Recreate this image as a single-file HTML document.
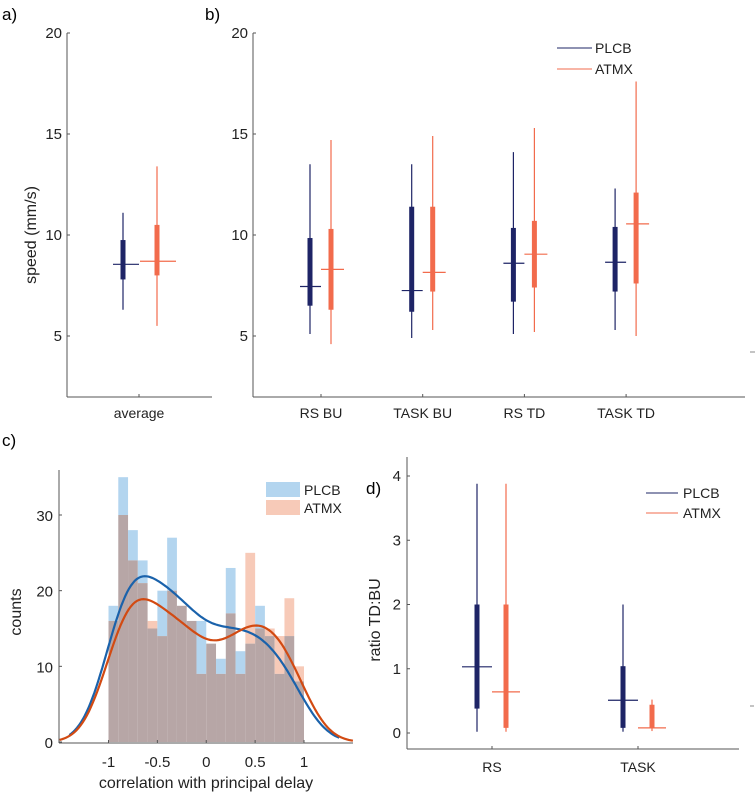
<!DOCTYPE html>
<html><head><meta charset="utf-8">
<style>
body{margin:0;background:#fff;}
svg{display:block;font-family:"Liberation Sans",Arial,sans-serif;}
</style></head>
<body>
<svg id="fig" width="755" height="795" viewBox="0 0 755 795" xmlns="http://www.w3.org/2000/svg">
<text x="2" y="20" font-size="17">a)</text>
<text x="205" y="20" font-size="17">b)</text>
<text x="2" y="446" font-size="17">c)</text>
<text x="366" y="494" font-size="17">d)</text>
<g id="gA"></g>
<g id="gB"></g>
<g id="gC"></g>
<g id="gD"></g>
</svg>
<script>
// ---- Panel a/b data (speed mm/s) ----
const aCats = ["average"];
const aPlcb = [[6.3, 7.8, 8.55, 9.75, 11.1]];   // [whiskLo, q1, median, q3, whiskHi]
const aAtmx = [[5.5, 8.0, 8.7, 10.5, 13.4]];
const bCats = ["RS BU", "TASK BU", "RS TD", "TASK TD"];
const bPlcb = [[5.1,6.5,7.45,9.85,13.5],[4.9,6.2,7.25,11.4,13.5],[5.1,6.7,8.6,10.35,14.1],[5.3,7.2,8.65,10.4,12.3]];
const bAtmx = [[4.6,6.3,8.3,10.3,14.7],[5.3,7.2,8.15,11.4,14.9],[5.2,7.4,9.05,10.7,15.3],[5.0,7.6,10.55,12.1,17.6]];
const speedTicks = [5, 10, 15, 20];
// ---- Panel c data (histogram counts, bins of 0.1 from -1 to 1) ----
const cPlcb = [18,35,28,24,15,20,27,18,16,16,13,11,23,12,13,18,14,9,14,8];
const cAtmx = [16,30,24,21,16,14,20,18,16,9,13,9,17,9,25,15,15,14,19,10];
const cXTicks = [-1, -0.5, 0, 0.5, 1];
const cXTickLabels = ["-1", "-0.5", "0", "0.5", "1"];
const cYTicks = [0, 10, 20, 30];
// ---- Panel d data (ratio TD:BU) ----
const dCats = ["RS", "TASK"];
const dPlcb = [[0.02,0.38,1.03,2.0,3.88],[0.02,0.08,0.51,1.04,2.0]];
const dAtmx = [[0.02,0.08,0.64,2.0,3.88],[0.03,0.08,0.08,0.44,0.52]];
const dYTicks = [0, 1, 2, 3, 4];

const NS = "http://www.w3.org/2000/svg";
const DARK = "#1e2466", ORG = "#f26b4c", AX = "#555";
function mk(parent, tag, attrs, name) {
  const el = document.createElementNS(NS, tag);
  for (const k in attrs) el.setAttribute(k, attrs[k]);
  
  
  parent.appendChild(el);
  return el;
}
function txt(parent, x, y, s, size, anchor, name, extra) {
  const t = mk(parent, "text", Object.assign({x: x, y: y, "font-size": size, "text-anchor": anchor, fill: "#222"}, extra || {}), name);
  t.textContent = s;
  return t;
}
function linScale(d0, d1, r0, r1) { return v => r0 + (v - d0) * (r1 - r0) / (d1 - d0); }

function boxPlot(g, x, s, y, color, medL, medR, name) {
  mk(g, "line", {x1: x, x2: x, y1: y(s[0]), y2: y(s[4]), stroke: color, "stroke-width": 1.2}, name + "-whisker");
  mk(g, "rect", {x: x - 2.5, y: y(s[3]), width: 5, height: y(s[1]) - y(s[3]), fill: color}, name + "-box");
  mk(g, "line", {x1: x + medL, x2: x + medR, y1: y(s[2]), y2: y(s[2]), stroke: color, "stroke-width": 1.2}, name + "-median");
}

// ---- Panel A ----
(function(){
  const g = document.getElementById("gA");
  const y = linScale(20, 5, 33, 336);
  mk(g, "line", {x1: 67, x2: 67, y1: 33, y2: 397, stroke: AX}, "y-axis");
  mk(g, "line", {x1: 67, x2: 212, y1: 397, y2: 397, stroke: AX}, "x-axis");
  speedTicks.forEach(v => {
    mk(g, "line", {x1: 67, x2: 70, y1: y(v), y2: y(v), stroke: AX}, "y-tick");
    txt(g, 62, y(v) + 5, String(v), 15, "end", "y-tick-label");
  });
  txt(g, 36, 235, "speed (mm/s)", 16, "middle", "y-axis-title", {transform: "rotate(-90 36 235)"});
  aCats.forEach((c, i) => {
    const cx = 139;
    mk(g, "line", {x1: cx, x2: cx, y1: 397, y2: 394, stroke: AX}, "x-tick");
    txt(g, cx, 418, c, 14, "middle", "x-tick-label");
    boxPlot(g, cx - 16, aPlcb[i], y, DARK, -10, 16, "plcb-box-" + c);
    boxPlot(g, cx + 18, aAtmx[i], y, ORG, -17, 19, "atmx-box-" + c);
  });
})();

// ---- Panel B ----
(function(){
  const g = document.getElementById("gB");
  const y = linScale(20, 5, 33, 336);
  mk(g, "line", {x1: 253, x2: 253, y1: 33, y2: 397, stroke: AX}, "y-axis");
  mk(g, "line", {x1: 253, x2: 745, y1: 397, y2: 397, stroke: AX}, "x-axis");
  mk(g, "line", {x1: 750, x2: 755, y1: 352, y2: 352, stroke: "#888"}, "axis-stub");
  speedTicks.forEach(v => {
    mk(g, "line", {x1: 253, x2: 256, y1: y(v), y2: y(v), stroke: AX}, "y-tick");
    txt(g, 248, y(v) + 5, String(v), 15, "end", "y-tick-label");
  });
  const x = i => 321 + i * 101.7;
  bCats.forEach((c, i) => {
    const cx = x(i);
    mk(g, "line", {x1: cx, x2: cx, y1: 397, y2: 394, stroke: AX}, "x-tick");
    txt(g, cx, 418, c, 14, "middle", "x-tick-label");
    boxPlot(g, cx - 11, bPlcb[i], y, DARK, -10, 11, "plcb-box");
    boxPlot(g, cx + 10, bAtmx[i], y, ORG, -10, 13, "atmx-box");
  });
  mk(g, "line", {x1: 557, x2: 592, y1: 48, y2: 48, stroke: DARK}, "legend-plcb-line");
  txt(g, 595, 53, "PLCB", 14, "start", "legend-plcb-label");
  mk(g, "line", {x1: 557, x2: 592, y1: 69, y2: 69, stroke: ORG}, "legend-atmx-line");
  txt(g, 595, 74, "ATMX", 14, "start", "legend-atmx-label");
})();

// ---- Panel C ----
(function(){
  const g = document.getElementById("gC");
  const x = linScale(-1, 1, 108.5, 304);
  const y = linScale(0, 30, 742, 515);
  const bw = 0.1;
  cPlcb.forEach((p, i) => {
    const a = cAtmx[i];
    const x0 = x(-1 + i * bw), x1 = x(-1 + (i + 1) * bw);
    const lo = Math.min(p, a);
    if (p > a) mk(g, "rect", {x: x0, y: y(p), width: x1 - x0, height: y(a) - y(p), fill: "#b3d5ef"}, "bar-plcb");
    if (a > p) mk(g, "rect", {x: x0, y: y(a), width: x1 - x0, height: y(p) - y(a), fill: "#f7cab8"}, "bar-atmx");
    mk(g, "rect", {x: x0, y: y(lo), width: x1 - x0, height: y(0) - y(lo), fill: "#b7a6a6"}, "bar-overlap");
  });
  function kde(counts, h, xv) {
    let s = 0;
    counts.forEach((c, i) => {
      const xi = -1 + (i + 0.5) * bw;
      s += c * bw * Math.exp(-0.5 * ((xv - xi) / h) ** 2) / (h * Math.sqrt(2 * Math.PI));
    });
    return s;
  }
  function curve(counts, x0, x1, color, name) {
    let d = "";
    for (let k = 0; k <= 140; k++) {
      const xv = x0 + (x1 - x0) * k / 140;
      d += (k ? "L" : "M") + x(xv).toFixed(1) + "," + y(kde(counts, 0.23, xv)).toFixed(1);
    }
    mk(g, "path", {d: d, fill: "none", stroke: color, "stroke-width": 2.2}, name);
  }
  curve(cPlcb, -1.4, 1.36, "#1a62ab", "kde-plcb");
  curve(cAtmx, -1.5, 1.5, "#d24a12", "kde-atmx");
  mk(g, "line", {x1: 59, x2: 59, y1: 470, y2: 743, stroke: AX}, "y-axis");
  mk(g, "line", {x1: 59, x2: 353, y1: 743, y2: 743, stroke: AX}, "x-axis");
  cYTicks.forEach(v => {
    mk(g, "line", {x1: 59, x2: 62, y1: y(v), y2: y(v), stroke: AX}, "y-tick");
    txt(g, 53, y(v) + 6, String(v), 15, "end", "y-tick-label");
  });
  cXTicks.forEach((v, i) => {
    mk(g, "line", {x1: x(v), x2: x(v), y1: 743, y2: 740, stroke: AX}, "x-tick");
    txt(g, x(v), 767, cXTickLabels[i], 15, "middle", "x-tick-label");
  });
  txt(g, 206, 788, "correlation with principal delay", 16, "middle", "x-axis-title");
  txt(g, 21, 612, "counts", 16, "middle", "y-axis-title", {transform: "rotate(-90 21 612)"});
  mk(g, "rect", {x: 266, y: 482, width: 34, height: 15, fill: "#b3d5ef"}, "legend-plcb-swatch");
  txt(g, 304, 495, "PLCB", 14, "start", "legend-plcb-label");
  mk(g, "rect", {x: 266, y: 500, width: 34, height: 15, fill: "#f7cab8"}, "legend-atmx-swatch");
  txt(g, 304, 513, "ATMX", 14, "start", "legend-atmx-label");
})();

// ---- Panel D ----
(function(){
  const g = document.getElementById("gD");
  const y = linScale(0, 4, 733, 476);
  mk(g, "line", {x1: 407, x2: 407, y1: 457, y2: 749, stroke: AX}, "y-axis");
  mk(g, "line", {x1: 407, x2: 739, y1: 749, y2: 749, stroke: AX}, "x-axis");
  mk(g, "line", {x1: 750, x2: 754, y1: 706, y2: 706, stroke: "#888"}, "axis-stub");
  dYTicks.forEach(v => {
    mk(g, "line", {x1: 407, x2: 410, y1: y(v), y2: y(v), stroke: AX}, "y-tick");
    txt(g, 401, y(v) + 5, String(v), 15, "end", "y-tick-label");
  });
  txt(g, 380, 620, "ratio TD:BU", 16, "middle", "y-axis-title", {transform: "rotate(-90 380 620)"});
  const x = i => 492 + i * 146;
  dCats.forEach((c, i) => {
    const cx = x(i);
    mk(g, "line", {x1: cx, x2: cx, y1: 749, y2: 746, stroke: AX}, "x-tick");
    txt(g, cx, 772, c, 14, "middle", "x-tick-label");
    boxPlot(g, cx - 15, dPlcb[i], y, DARK, -15, 15, "plcb-box");
    boxPlot(g, cx + 14, dAtmx[i], y, ORG, -14, 14, "atmx-box");
  });
  mk(g, "line", {x1: 646, x2: 678, y1: 493, y2: 493, stroke: DARK}, "legend-plcb-line");
  txt(g, 683, 498, "PLCB", 14, "start", "legend-plcb-label");
  mk(g, "line", {x1: 646, x2: 678, y1: 513, y2: 513, stroke: ORG}, "legend-atmx-line");
  txt(g, 683, 518, "ATMX", 14, "start", "legend-atmx-label");
})();
</script>
</body></html>
